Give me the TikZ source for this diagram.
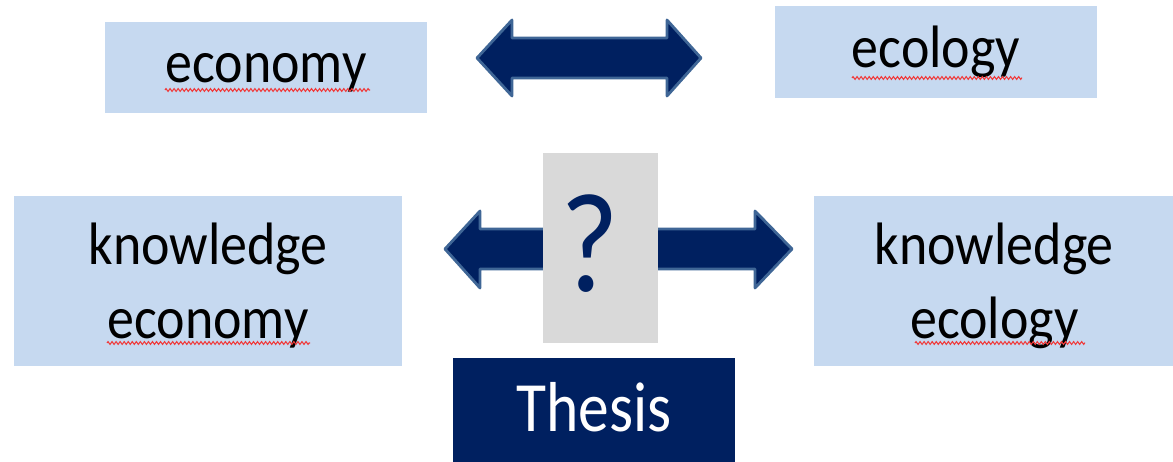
\documentclass[tikz,border=0pt]{standalone}
\usepackage{fontspec}
\usepackage{graphicx}
\setmainfont{Carlito}
\usetikzlibrary{decorations.pathmorphing}

\definecolor{boxblue}{HTML}{C6D9F0}
\definecolor{navy}{HTML}{002060}
\definecolor{arrowrim}{HTML}{3F6696}
\definecolor{qgray}{HTML}{D9D9D9}
\definecolor{spellred}{HTML}{F03A3A}

% text a bit taller than wide, as in the slide
\newcommand{\tallbox}[2][1.11]{\scalebox{1}[#1]{\begin{tabular}[t]{@{}c@{}}#2\end{tabular}}}

\begin{document}
\begin{tikzpicture}[x=0.02cm, y=-0.02cm,
    box/.style={fill=boxblue, inner sep=0pt, font=\fontsize{30.7}{38}\selectfont},
    bigarrow/.style={fill=navy, draw=arrowrim, line width=1.6pt, line join=round},
    squiggle/.style={spellred, line width=0.6pt, decorate,
      decoration={zigzag, amplitude=0.8pt, segment length=2.3pt}}]
  \useasboundingbox (0,0) rectangle (1173,462);

  % arrows (drawn first, the question box sits on top)
  \draw[bigarrow] (477,58) -- (512,20) -- (512,38) -- (667,38) -- (667,20) -- (701,58)
    -- (667,96) -- (667,78) -- (512,78) -- (512,96) -- cycle;
  \draw[bigarrow] (445,249) -- (480,211) -- (480,229) -- (570,229)
    -- (570,269) -- (480,269) -- (480,288) -- cycle;
  \draw[bigarrow] (792,249) -- (755,211) -- (755,229) -- (630,229)
    -- (630,269) -- (755,269) -- (755,288) -- cycle;

  % boxes
  \node[box, minimum width=6.44cm, minimum height=1.82cm, text height=0.62cm, text depth=0pt]
    (econ) at (266,67.5) {\tallbox{economy}};
  \node[box, minimum width=6.44cm, minimum height=1.84cm, text height=0.64cm, text depth=0pt]
    (ecol) at (936,52) {\tallbox{ecology}};
  \node[box, minimum width=7.76cm, minimum height=3.4cm, text height=0pt, text depth=0.68cm]
    (kecon) at (208,281) {\tallbox{knowledge\\economy}};
  \node[box, minimum width=7.2cm, minimum height=3.4cm, text height=0pt, text depth=0.68cm, anchor=west]
    (kecol) at (814,281) {\tallbox{knowledge\\ecology}};
  \node[fill=qgray, inner sep=0pt, minimum width=2.3cm, minimum height=3.8cm,
        text=navy, font=\fontsize{72}{86}\selectfont, text height=1.76cm, text depth=0pt]
        (quest) at (600.5,248) {\kern-0.44cm\scalebox{1}[1.12]{?}};
  \node[fill=navy, text=white, inner sep=0pt, minimum width=5.64cm, minimum height=2.08cm,
        font=\fontsize{35}{42}\selectfont, text height=0.88cm, text depth=0pt]
        (thesis) at (594,410) {\tallbox[1.15]{Thesis}};

  % spell-check marks
  \draw[squiggle] (165,90) -- (370,90);
  \draw[squiggle] (852,78) -- (1022,78);
  \draw[squiggle] (107,343) -- (310,343);
  \draw[squiggle] (915,343) -- (1085,343);
\end{tikzpicture}
\end{document}
